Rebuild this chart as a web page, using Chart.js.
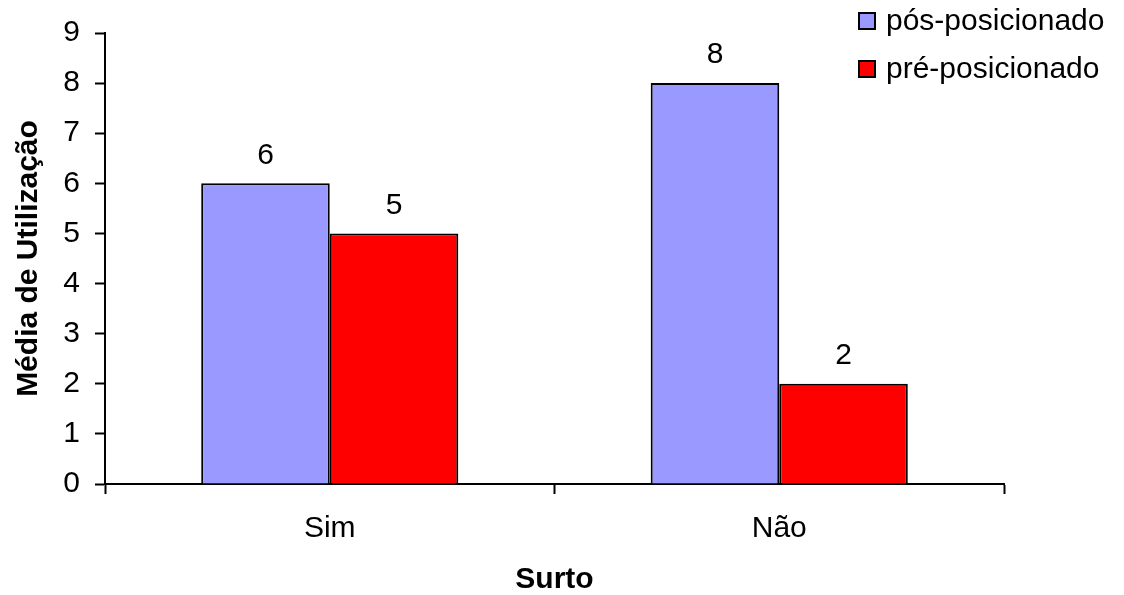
<!DOCTYPE html>
<html>
<head>
<meta charset="utf-8">
<script src="https://cdn.jsdelivr.net/npm/chart.js@4/dist/chart.umd.min.js"></script>
<style>
  html, body { margin: 0; padding: 0; background: #fff; }
  #wrap { width: 1124px; height: 595px; }
</style>
</head>
<body>
<div id="wrap"><canvas id="chart" width="1124" height="595"></canvas></div>
<script>
const categories = ['Sim', 'Não'];
const posValues = [6, 8];
const preValues = [5, 2];
const seriesNames = ['pós-posicionado', 'pré-posicionado'];
const seriesColors = ['#9999FF', '#FF0000'];
const yTicks = [0, 1, 2, 3, 4, 5, 6, 7, 8, 9];

const FONT = '"Liberation Sans", Arial, sans-serif';

// value labels above each bar
const valueLabels = {
    id: 'valueLabels',
    afterDatasetsDraw(chart) {
        const ctx = chart.ctx;
        ctx.save();
        ctx.font = '30px ' + FONT;
        ctx.fillStyle = '#000';
        ctx.textAlign = 'center';
        ctx.textBaseline = 'middle';
        chart.data.datasets.forEach((ds, i) => {
            chart.getDatasetMeta(i).data.forEach((bar, j) => {
                ctx.fillText(ds.data[j], bar.x, bar.y - 28);
            });
        });
        ctx.restore();
    }
};

// legend box in the top right corner
const cornerLegend = {
    id: 'cornerLegend',
    afterDraw(chart) {
        const ctx = chart.ctx;
        ctx.save();
        ctx.font = '30px ' + FONT;
        ctx.textBaseline = 'middle';
        chart.data.datasets.forEach((ds, i) => {
            const y = 21 + i * 48;
            ctx.fillStyle = ds.backgroundColor;
            ctx.fillRect(859, y - 8, 16, 16);
            ctx.strokeStyle = '#000';
            ctx.lineWidth = 2;
            ctx.strokeRect(859, y - 8, 16, 16);
            ctx.fillStyle = '#000';
            ctx.fillText(ds.label, 886, y + 1);
        });
        ctx.restore();
    }
};

new Chart(document.getElementById('chart').getContext('2d'), {
    type: 'bar',
    data: {
        labels: categories,
        datasets: [
            { label: seriesNames[0], data: posValues, backgroundColor: seriesColors[0], borderColor: '#000', borderWidth: 2 },
            { label: seriesNames[1], data: preValues, backgroundColor: seriesColors[1], borderColor: '#000', borderWidth: 2 }
        ]
    },
    options: {
        responsive: false,
        animation: false,
        devicePixelRatio: 1,
        layout: { padding: { top: 33, right: 120, left: 0, bottom: 0 } },
        datasets: { bar: { categoryPercentage: 0.572, barPercentage: 1 } },
        plugins: {
            legend: { display: false },
            tooltip: { enabled: false }
        },
        scales: {
            x: {
                grid: { drawOnChartArea: false, drawTicks: true, tickLength: 10, tickColor: '#000', tickWidth: 2, offset: true },
                border: { color: '#000', width: 2 },
                ticks: { color: '#000', font: { family: FONT, size: 30 }, padding: 17 },
                title: {
                    display: true, text: 'Surto', color: '#000',
                    font: { family: FONT, size: 30, weight: 'bold' },
                    padding: { top: 10, bottom: -3 }
                },
                afterFit(axis) { axis.height = 595 - 484; }
            },
            y: {
                min: 0, max: 9,
                afterBuildTicks(axis) { axis.ticks = yTicks.map(v => ({ value: v })); },
                grid: { drawOnChartArea: false, drawTicks: true, tickLength: 10, tickColor: '#000', tickWidth: 2 },
                border: { color: '#000', width: 2 },
                ticks: { color: '#000', font: { family: FONT, size: 30 }, padding: 15 },
                title: {
                    display: true, text: 'Média de Utilização', color: '#000',
                    font: { family: FONT, size: 30, weight: 'bold' },
                    padding: { top: 11, bottom: 10 }
                },
                afterFit(axis) { axis.width = 105; }
            }
        }
    },
    plugins: [valueLabels, cornerLegend]
});
</script>
</body>
</html>
